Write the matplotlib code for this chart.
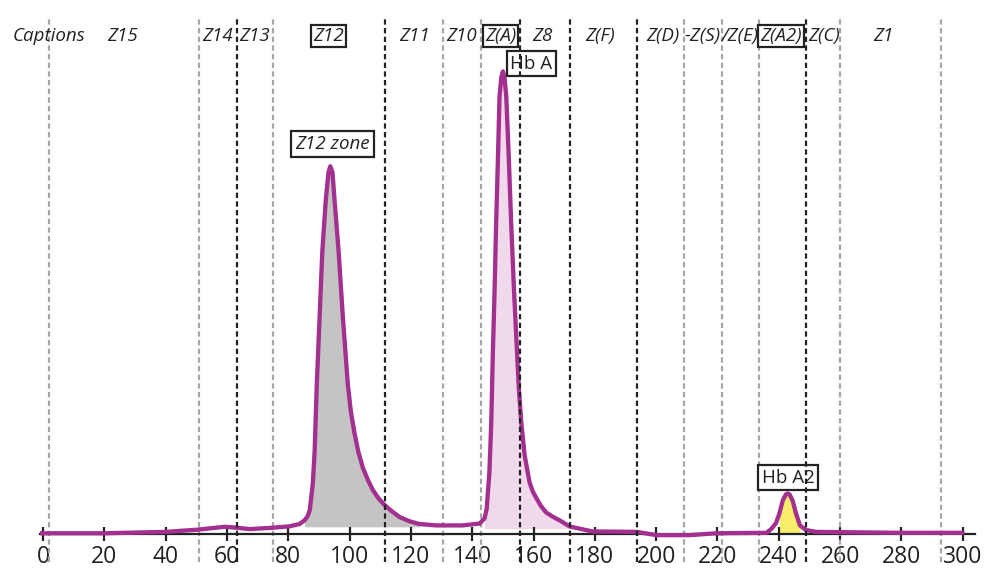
import numpy as np
import matplotlib
matplotlib.use("Agg")
import matplotlib.pyplot as plt

# ── DATA ──────────────────────────────────────────────────────────────────────
# electropherogram trace (relative units, Hb A peak = 100)
trace_x = [-1.1, 20.1, 40.0, 50.8, 59.2, 63.2, 67.4, 74.9, 80.4, 83.7, 85.3,
           86.3, 87.0, 88.0, 88.6, 89.3, 90.2, 91.1, 92.2, 93.1, 93.7, 94.4,
           95.1, 96.4, 97.8, 99.4, 100.4, 101.6, 102.8, 104.3, 105.9, 107.6,
           109.5, 111.4, 113.7, 116.3, 119.5, 122.8, 128.3, 136.8, 142.4,
           144.0, 144.7, 145.6, 146.2, 146.7, 147.3, 147.8, 148.4, 148.9,
           149.5, 150.0, 150.5, 151.1, 151.9, 152.7, 153.6, 154.4, 155.2,
           156.0, 157.1, 158.7, 159.7, 160.9, 162.4, 164.1, 166.2, 168.5,
           171.7, 175.0, 179.2, 193.6, 200.1, 210.9, 219.6, 236.0, 237.5,
           239.1, 240.2, 241.3, 242.3, 242.9, 243.5, 244.5, 245.6, 246.9,
           248.9, 252.2, 279.4, 300.0]
trace_y = [0.2, 0.2, 0.5, 1.0, 1.6, 1.4, 1.1, 1.4, 1.7, 2.2, 3.0,
           3.9, 5.2, 11.0, 18.1, 32.5, 46.8, 61.2, 72.0, 78.2, 79.5, 78.2,
           72.0, 61.2, 46.8, 32.5, 26.5, 21.8, 17.9, 14.4, 11.8, 9.5,
           7.7, 6.3, 5.0, 3.7, 2.8, 2.2, 1.9, 1.9, 2.3,
           3.4, 5.4, 13.4, 24.1, 38.6, 53.0, 67.2, 81.7, 94.6,
           98.8, 100.0, 98.8, 94.6, 81.7, 67.2, 53.0, 42.2, 31.5,
           24.1, 17.0, 11.2, 9.3, 7.8, 6.1, 4.7, 3.8, 3.0,
           1.7, 1.2, 0.6, 0.5, -0.2, -0.2, 0.2, 0.3, 1.1,
           2.4, 4.5, 7.3, 8.6, 8.8, 8.6, 7.3, 4.5, 1.9,
           0.9, 0.5, 0.3, 0.3]

# zone boundaries
gray_bounds = [2, 51, 75, 130.5, 142.8, 209.2, 221.4, 233.5, 259.9, 292.8]
black_bounds = [63.3, 111.7, 155.5, 171.8, 193.8, 249.0]

# zone captions along the top
zone_labels = ["Captions", "Z15", "Z14", "Z13", "Z12", "Z11", "Z10", "Z(A)",
               "Z8", "Z(F)", "Z(D)", "-Z(S)", "/Z(E)", "Z(A2)", "Z(C)", "Z1"]
zone_label_x = [2, 26.0, 56.8, 69.0, 93.2, 121.2, 136.4, 149.2,
                163.0, 181.8, 202.1, 215.0, 227.4, 240.8, 254.8, 274.1]
boxed_zones = ["Z12", "Z(A)", "Z(A2)"]

xticks = list(range(0, 301, 20))

# shaded fractions: (x from, x to, base level, colour)
fractions = [(84.5, 126.0, 1.6, "#c4c4c4"),
             (143.0, 176.0, 1.2, "#f0d9ea"),
             (239.6, 248.2, 0.3, "#f6ee6a")]

# peak annotations: text, x, y, italic
peak_labels = [("Z12 zone", 94.4, 84.3, True),
               ("Hb A", 159.3, 101.7, False),
               ("Hb A2", 243.1, 12.2, False)]

# ── STYLE ─────────────────────────────────────────────────────────────────────
TRACE = "#a3308e"
INK = "#222222"
GRAY = "#a6a6a6"
FONT = "Open Sans"

fig = plt.figure(figsize=(10, 5.86), dpi=100)
ax = fig.add_axes([0.040, 0.041, 0.935, 0.928])

x = np.array(trace_x)
y = np.array(trace_y)

# fills under peaks
for x0, x1, base, col in fractions:
    m = (x >= x0) & (x <= x1)
    ax.fill_between(x[m], y[m], base, where=y[m] >= base, interpolate=True,
                    color=col, linewidth=0, zorder=1)

ax.plot(x, y, color=TRACE, linewidth=3.1, solid_capstyle="round",
        solid_joinstyle="round", zorder=3)

# zone boundaries
for b in gray_bounds:
    ax.axvline(b, color=GRAY, linewidth=1.6, linestyle=(0, (2.4, 1.5)), zorder=2)
for b in black_bounds:
    ax.axvline(b, color=INK, linewidth=1.6, linestyle=(0, (2.4, 1.5)), zorder=5)

# top captions
box = dict(boxstyle="square,pad=0.12", facecolor="white", edgecolor=INK,
           linewidth=1.6)
for lab, lx in zip(zone_labels, zone_label_x):
    ax.text(lx, 107.6, lab, ha="center", va="center", fontsize=13.5,
            family=FONT, style="italic", color=INK, zorder=4,
            bbox=box if lab in boxed_zones else None)

# peak name boxes
box2 = dict(boxstyle="square,pad=0.2", facecolor="white", edgecolor=INK,
            linewidth=1.6)
for lab, lx, ly, it in peak_labels:
    ax.text(lx, ly, lab, ha="center", va="center", fontsize=13.5, family=FONT,
            style="italic" if it else "normal", color=INK, zorder=4, bbox=box2)

# axis
ax.set_xlim(-1, 304)
ax.set_ylim(-6, 111.5)
ax.spines[["top", "right", "left"]].set_visible(False)
ax.spines["bottom"].set_position(("data", 0))
ax.spines["bottom"].set_linewidth(1.6)
ax.spines["bottom"].set_color(INK)
ax.set_yticks([])
ax.set_xticks(xticks)
ax.tick_params(axis="x", direction="inout", length=10, width=1.6, color=INK,
               pad=3, labelsize=16.5, labelcolor=INK)
for t in ax.get_xticklabels():
    t.set_family(FONT)
ax.patch.set_visible(False)

plt.savefig("out.png", dpi=100)
